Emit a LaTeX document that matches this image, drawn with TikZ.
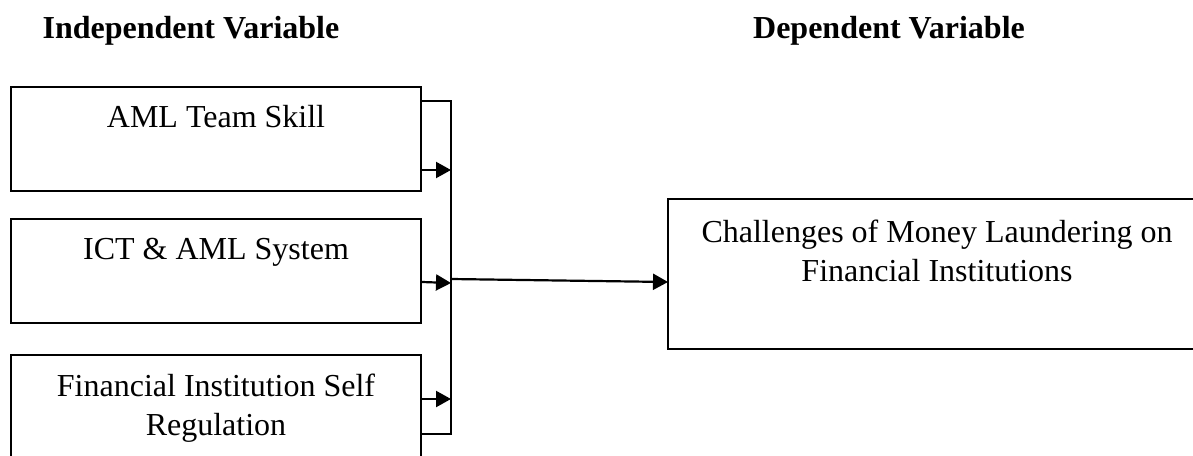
\documentclass[tikz,border=0pt]{standalone}
\usepackage{fontspec}
\setmainfont{Liberation Serif}
\usetikzlibrary{arrows.meta}
\begin{document}
\begin{tikzpicture}[x=0.5pt,y=-0.5pt,
  box/.style={draw=black,line width=1.1pt,rectangle,inner sep=0pt},
  txt/.style={anchor=base,inner sep=0pt,font=\fontsize{16}{19.5}\selectfont},
  ttl/.style={anchor=base,inner sep=0pt,font=\fontsize{16}{19.5}\selectfont\bfseries},
  conn/.style={line width=1.1pt,black},
  arr/.style={conn,-{Triangle[length=7.5pt,width=8pt]}}]
\useasboundingbox (0,0) rectangle (1193,455);
% titles
\node[ttl] (tind) at (191,38) {Independent Variable};
\node[ttl] (tdep) at (889,38) {Dependent Variable};
% boxes
\node[box,minimum width=205pt,minimum height=52pt] (b1) at (216,139) {};
\node[box,minimum width=205pt,minimum height=52pt] (b2) at (216,271) {};
\node[box,minimum width=205pt,minimum height=52pt] (b3) at (216,407) {};
\node[box,minimum width=266pt,minimum height=75pt] (dv) at (934,274) {};
% texts
\node[txt] (t1) at (216,127) {AML Team Skill};
\node[txt] (t2) at (216,259) {ICT \& AML System};
\node[txt] (t3a) at (216,396) {Financial Institution Self};
\node[txt] (t3b) at (216,435) {Regulation};
\node[txt] (t4a) at (937,242) {Challenges of Money Laundering on};
\node[txt] (t4b) at (937,281) {Financial Institutions};
% bracket
\coordinate (btop) at (451,101);
\coordinate (bbot) at (451,434);
\coordinate (bus) at (451,279);
\coordinate (a1) at (451,170);
\coordinate (a2) at (451,283);
\coordinate (a3) at (451,399);
\coordinate (dvin) at (668,282);
\draw[conn] (b1.east |- btop) -- (btop) -- (bbot) -- (b3.east |- bbot);
\draw[arr] (b1.east |- a1) -- (a1);
\draw[arr] (b2.east |- 0,282) -- (a2);
\draw[arr] (b3.east |- a3) -- (a3);
\draw[arr] (bus) -- (dvin);
\end{tikzpicture}
\end{document}
